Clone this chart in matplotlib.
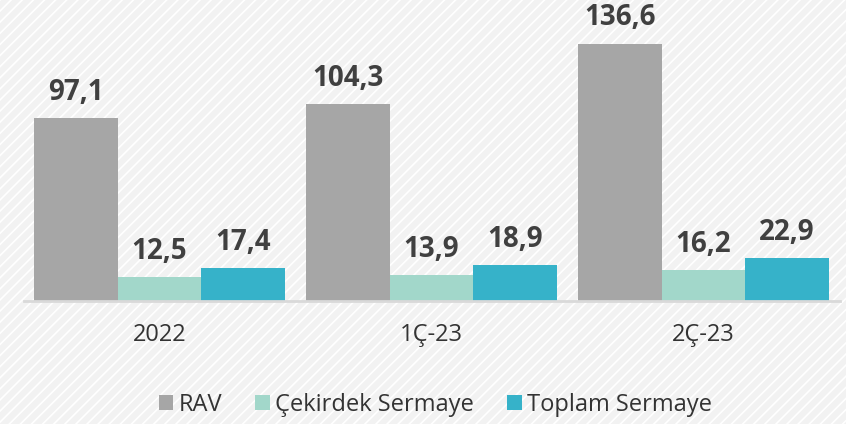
import numpy as np
import matplotlib.pyplot as plt
from matplotlib.patches import Rectangle, Patch

plt.rcParams['font.family'] = ['Open Sans', 'DejaVu Sans']
plt.rcParams['hatch.linewidth'] = 1.2

periods = ['2022', '1Ç-23', '2Ç-23']
series_names = ['RAV', 'Çekirdek Sermaye', 'Toplam Sermaye']
rav = [97.1, 104.3, 136.6]
cekirdek = [12.5, 13.9, 16.2]
toplam = [17.4, 18.9, 22.9]
colors = ['#a6a6a6', '#a2d7ca', '#36b2c9']

fig = plt.figure(figsize=(8.46, 4.24), dpi=100, facecolor='#f2f2f2')

# striped backdrop
bg = Rectangle((0, 0), 1, 1, transform=fig.transFigure, facecolor='none',
               edgecolor='white', hatch='///', lw=0, zorder=-10)
fig.patches.append(bg)

W, H = 846, 424
ax = fig.add_axes([23.5 / W, (H - 301) / H, (839.5 - 23.5) / W, 301 / H])
ax.set_facecolor('none')

x = np.arange(len(periods))
bw = 83.7 / 272
for i, vals in enumerate([rav, cekirdek, toplam]):
    pos = x + (i - 1) * bw
    ax.bar(pos, vals, width=bw, color=colors[i], label=series_names[i], zorder=2)
    for px, v in zip(pos, vals):
        ax.annotate(f'{v:.1f}'.replace('.', ','), (px, v), xytext=(0, 13),
                    textcoords='offset points', ha='center', va='baseline',
                    fontsize=20, fontweight='bold', color='#404040')

ax.set_xlim(-0.5, 2.5)
ax.set_ylim(0, 301 / 1.885)
for s in ['top', 'right', 'left']:
    ax.spines[s].set_visible(False)
ax.spines['bottom'].set_color('#d9d9d9')
ax.spines['bottom'].set_linewidth(2)
ax.set_yticks([])
ax.set_xticks(x)
ax.set_xticklabels(periods, fontsize=17, color='#333333')
ax.tick_params(axis='x', length=0, pad=16)

handles = [Patch(facecolor=c) for c in colors]
fig.legend(handles, series_names, loc='center', bbox_to_anchor=(435.5 / W, (H - 405) / H),
           ncol=3, frameon=False, fontsize=17, handlelength=0.6, handleheight=0.6,
           handletextpad=0.25, columnspacing=1.4, labelcolor='#333333')

fig.savefig('out.png', dpi=100, facecolor=fig.get_facecolor())
